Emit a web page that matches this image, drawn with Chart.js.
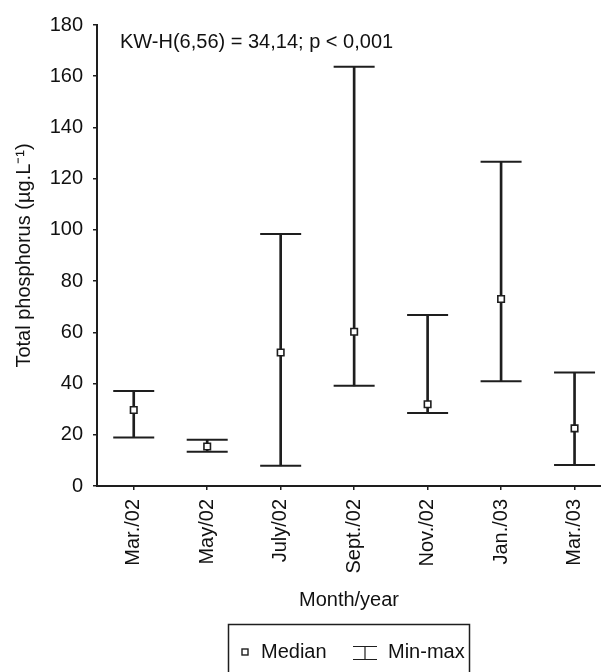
<!DOCTYPE html>
<html>
<head>
<meta charset="utf-8">
<script src="https://cdn.jsdelivr.net/npm/chart.js@4.4.1/dist/chart.umd.min.js"></script>
<style>
  html, body { margin: 0; padding: 0; background: #fff; }
  #wrap { width: 601px; height: 672px; position: relative; }
</style>
</head>
<body>
<div id="wrap"><canvas id="c"></canvas></div>
<script>
// ---- data ----
const categories = ["Mar./02", "May/02", "July/02", "Sept./02", "Nov./02", "Jan./03", "Mar./03"];
const medians = [29.7, 15.4, 52.1, 60.2, 31.9, 73.0, 22.5];
const mins    = [18.9, 13.4, 7.9, 39.1, 28.5, 40.9, 8.2];
const maxs    = [37.1, 18.1, 98.4, 163.7, 66.8, 126.6, 44.3];
const yTicks  = [0, 20, 40, 60, 80, 100, 120, 140, 160, 180];
const statText = "KW-H(6,56) = 34,14; p < 0,001";
const xTitle = "Month/year";
const yTitle = "Total phosphorus (µg.L⁻¹)";
const legendLabels = ["Median", "Min-max"];

const INK = "#1e1e1e";
const FONT = "'Liberation Sans', Arial, sans-serif";

const annotationPlugin = {
  id: 'extras',
  afterDraw(chart) {
    const ctx = chart.ctx;
    ctx.save();
    // statistics text
    ctx.fillStyle = "#111";
    ctx.font = "20px " + FONT;
    ctx.textAlign = "left";
    ctx.textBaseline = "middle";
    ctx.fillText(statText, 120, 42);

    // legend box
    ctx.strokeStyle = INK;
    ctx.lineWidth = 1.5;
    ctx.strokeRect(228.5, 624.5, 241, 60);
    // median marker
    ctx.fillStyle = "#fff";
    ctx.lineWidth = 1.4;
    ctx.fillRect(242, 649, 6, 6);
    ctx.strokeRect(242, 649, 6, 6);
    ctx.fillStyle = "#111";
    ctx.fillText(chart.data.datasets[0].label, 261, 652);
    // min-max symbol
    ctx.lineWidth = 1.2;
    ctx.beginPath();
    ctx.moveTo(353, 646.5); ctx.lineTo(377, 646.5);
    ctx.moveTo(353, 659.5); ctx.lineTo(377, 659.5);
    ctx.moveTo(365, 646.5); ctx.lineTo(365, 659.5);
    ctx.stroke();
    ctx.fillText(chart.data.datasets[1].label, 388, 652);
    ctx.restore();
  }
};

const stems = categories.map((c, i) => ({ x: i, y: [mins[i], maxs[i]] }));
const caps = categories.flatMap((c, i) => [{ x: i, y: mins[i] }, { x: i, y: maxs[i] }]);
const meds = categories.map((c, i) => ({ x: i, y: medians[i] }));

new Chart(document.getElementById('c'), {
  type: 'scatter',
  data: {
    datasets: [
      {
        type: 'scatter', label: legendLabels[0], data: meds, order: 0,
        pointStyle: 'rect', pointRadius: 4.6, pointBackgroundColor: '#fff',
        pointBorderColor: INK, pointBorderWidth: 1.6, showLine: false
      },
      {
        type: 'scatter', label: legendLabels[1], data: caps, order: 1,
        pointStyle: 'line', pointRadius: 20.5, pointBorderColor: INK,
        pointBorderWidth: 2, showLine: false
      },
      {
        type: 'bar', label: 'stems', data: stems, order: 2,
        barThickness: 2, backgroundColor: INK, borderWidth: 0, grouped: false
      }
    ]
  },
  options: {
    responsive: true,
    maintainAspectRatio: false,
    animation: false,
    events: [],
    layout: { autoPadding: false, padding: { top: 25, right: 0, bottom: 60, left: 0 } },
    plugins: { legend: { display: false }, tooltip: { enabled: false } },
    scales: {
      x: {
        type: 'linear', min: -0.5, max: 6.36, offset: false,
        afterBuildTicks: (s) => { s.ticks = categories.map((c, i) => ({ value: i })); },
        afterFit: (s) => { s.height = 126; s.paddingRight = 0; s.paddingLeft = 0; },
        ticks: {
          autoSkip: false, minRotation: 90, maxRotation: 90, padding: 9,
          color: '#111', font: { family: FONT, size: 20 },
          callback: (v) => categories[v]
        },
        grid: { display: true, offset: false, drawOnChartArea: false, drawTicks: true, tickLength: 4, color: INK, lineWidth: 1.5 },
        border: { display: true, color: INK, width: 2 },
        title: { display: true, text: xTitle, color: '#111', font: { family: FONT, size: 20 }, padding: { top: 0, bottom: 0 } }
      },
      y: {
        type: 'linear', min: 0, max: 180,
        afterBuildTicks: (s) => { s.ticks = yTicks.map(v => ({ value: v })); },
        afterFit: (s) => { s.width = 97; },
        ticks: { color: '#111', font: { family: FONT, size: 20 }, padding: 10 },
        grid: { display: true, drawOnChartArea: false, drawTicks: true, tickLength: 4, color: INK, lineWidth: 1.5 },
        border: { display: true, color: INK, width: 2 },
        title: { display: true, text: yTitle, color: '#111', font: { family: FONT, size: 20 }, padding: { top: 12, bottom: 0 } }
      }
    }
  },
  plugins: [annotationPlugin]
});
</script>
</body>
</html>
